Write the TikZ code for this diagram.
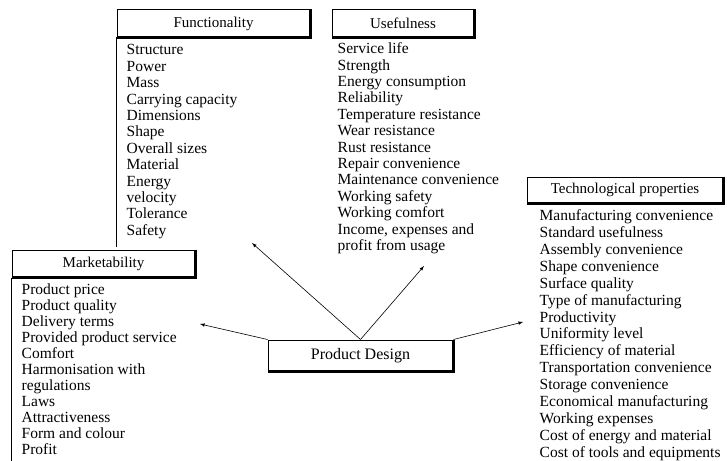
\documentclass[tikz,border=0pt]{standalone}
\usepackage{fontspec}
\setmainfont{Liberation Serif}
\usetikzlibrary{positioning}

\begin{document}
\begin{tikzpicture}[x=1pt, y=-1pt,
    header/.style={draw, line width=1pt, minimum height=27pt, inner sep=0pt, font=\fontsize{15}{16}\selectfont},
    itemlist/.style={align=left, inner sep=0pt, font=\fontsize{15.5}{16.4}\selectfont},
    shade/.style={line width=2.2pt},
    link/.style={-latex, semithick}]
    \useasboundingbox (0,0) rectangle (727,460);

    % Headers
    \node[header, minimum width=193pt] (func) at (213.5,23.5) {Functionality};
    \node[header, minimum width=142pt] (use) at (403,23.5) {Usefulness};
    \node[header, minimum width=196pt, minimum height=26pt] (tech) at (625,190) {Technological properties};
    \node[header, minimum width=183pt] (market) at (103.5,263.5) {Marketability};
    \node[header, minimum width=185pt, minimum height=31pt, font=\fontsize{16}{17}\selectfont] (design) at (360.5,355.5) {Product Design};

    % Heavy right and bottom edges
    \foreach \n in {func,use,tech,market,design}
        \draw[shade] (\n.north east) -- (\n.south east) -- (\n.south west);

    % Lists
    \node[itemlist, below right=7pt and 10pt of func.south west] (funclist) {Structure\\Power\\Mass\\Carrying capacity\\Dimensions\\Shape\\Overall sizes\\Material\\Energy\\velocity\\Tolerance\\Safety};
    \node[itemlist, below right=5pt and 6pt of use.south west] (uselist) {Service life\\Strength\\Energy consumption\\Reliability\\Temperature resistance\\Wear resistance\\Rust resistance\\Repair convenience\\Maintenance convenience\\Working safety\\Working comfort\\Income, expenses and\\profit from usage};
    \node[itemlist, below right=6pt and 13pt of tech.south west, font=\fontsize{15.5}{16.9}\selectfont] (techlist) {Manufacturing convenience\\Standard usefulness\\Assembly convenience\\Shape convenience\\Surface quality\\Type of manufacturing\\Productivity\\Uniformity level\\Efficiency of material\\Transportation convenience\\Storage convenience\\Economical manufacturing\\Working expenses\\Cost of energy and material\\Cost of tools and equipments};
    \node[itemlist, below right=6pt and 10pt of market.south west, font=\fontsize{15.5}{16}\selectfont] (marketlist) {Product price\\Product quality\\Delivery terms\\Provided product service\\Comfort\\Harmonisation with\\regulations\\Laws\\Attractiveness\\Form and colour\\Profit};

    % Side rules
    \draw (func.south west) -- ++(0,209);
    \draw (market.south west) -- ++(0,184);

    % Arrows
    \coordinate (tofunc) at (252,243);
    \coordinate (touse) at (424,266);
    \coordinate (tomarket) at (200,324);
    \coordinate (totech) at (523,322);
    \draw[link] (design.north) -- (tofunc);
    \draw[link] (design.north) -- (touse);
    \draw[link] (design.north west) -- (tomarket);
    \draw[link] (design.north east) -- (totech);
\end{tikzpicture}
\end{document}
